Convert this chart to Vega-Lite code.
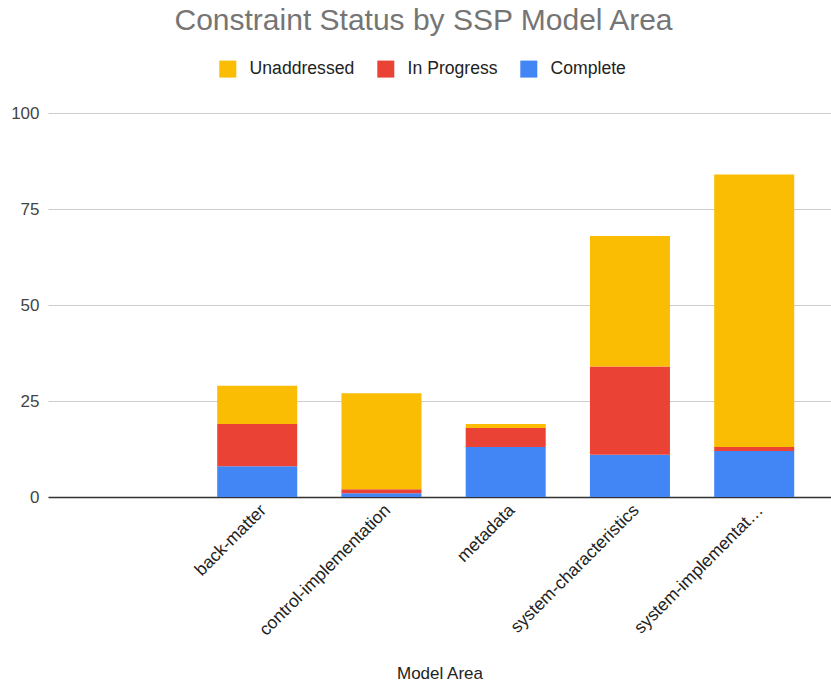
{
  "$schema": "https://vega.github.io/schema/vega-lite/v6.json",
  "autosize": {"type": "none"},
  "padding": {"left": 48, "top": 113, "right": 0, "bottom": 187},
  "width": 783,
  "height": 384,
  "background": "white",
  "title": {
    "text": "Constraint Status by SSP Model Area",
    "fontSize": 30,
    "font": "Liberation Sans",
    "fontWeight": "normal",
    "color": "#757575",
    "anchor": "middle",
    "dx": -16,
    "offset": 24
  },
  "data": {
    "values": [
      {"area": "back-matter", "status": "Complete", "count": 8},
      {"area": "back-matter", "status": "In Progress", "count": 11},
      {"area": "back-matter", "status": "Unaddressed", "count": 10},
      {"area": "control-implementation", "status": "Complete", "count": 1},
      {"area": "control-implementation", "status": "In Progress", "count": 1},
      {"area": "control-implementation", "status": "Unaddressed", "count": 25},
      {"area": "metadata", "status": "Complete", "count": 13},
      {"area": "metadata", "status": "In Progress", "count": 5},
      {"area": "metadata", "status": "Unaddressed", "count": 1},
      {"area": "system-characteristics", "status": "Complete", "count": 11},
      {"area": "system-characteristics", "status": "In Progress", "count": 23},
      {"area": "system-characteristics", "status": "Unaddressed", "count": 34},
      {"area": "system-implementation", "status": "Complete", "count": 12},
      {"area": "system-implementation", "status": "In Progress", "count": 1},
      {"area": "system-implementation", "status": "Unaddressed", "count": 71}
    ]
  },
  "mark": {"type": "bar"},
  "encoding": {
    "x": {
      "field": "area",
      "type": "nominal",
      "scale": {
        "domain": ["", "back-matter", "control-implementation", "metadata", "system-characteristics", "system-implementation"],
        "paddingInner": 0.356,
        "paddingOuter": 0.329,
        "align": 0.55
      },
      "axis": {
        "title": "Model Area",
        "titleFont": "Liberation Sans",
        "titleFontSize": 17,
        "titleFontWeight": "normal",
        "titleColor": "#222222",
        "titlePadding": 27,
        "labelAngle": -45,
        "labelFont": "Liberation Sans",
        "labelFontSize": 17.5,
        "labelColor": "#222222",
        "labelPadding": 4,
        "labelLimit": 300,
        "labelExpr": "datum.label == 'system-implementation' ? 'system-implementat…' : datum.label",
        "ticks": false,
        "domainColor": "#333333",
        "domainWidth": 1.5,
        "grid": false
      }
    },
    "y": {
      "field": "count",
      "type": "quantitative",
      "aggregate": "sum",
      "stack": "zero",
      "scale": {"domain": [0, 100], "nice": false},
      "axis": {
        "title": null,
        "values": [0, 25, 50, 75, 100],
        "labelFont": "Liberation Sans",
        "labelFontSize": 17,
        "labelColor": "#444444",
        "labelPadding": 9,
        "ticks": false,
        "domain": false,
        "gridColor": "#cccccc",
        "gridWidth": 1
      }
    },
    "order": {"field": "status", "sort": "ascending"},
    "color": {
      "field": "status",
      "type": "nominal",
      "scale": {
        "domain": ["Unaddressed", "In Progress", "Complete"],
        "range": ["#FBBC04", "#EA4335", "#4285F4"]
      },
      "legend": {
        "title": null,
        "orient": "none",
        "direction": "horizontal",
        "legendX": 171,
        "legendY": -53,
        "symbolType": "square",
        "symbolSize": 289,
        "symbolStrokeWidth": 0,
        "symbolOpacity": 1,
        "labelFont": "Liberation Sans",
        "labelFontSize": 17.6,
        "labelColor": "#222222",
        "labelOffset": 13,
        "columnPadding": 22
      }
    }
  },
  "config": {"view": {"stroke": null}}
}
